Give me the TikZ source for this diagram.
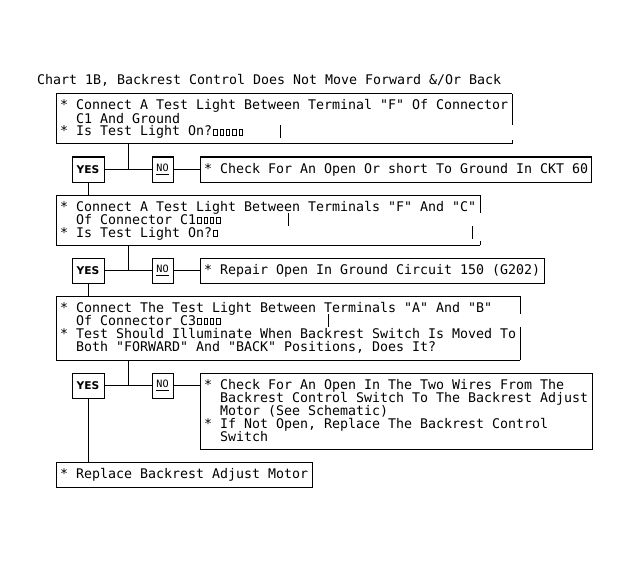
\documentclass[tikz,border=0pt]{standalone}
\usepackage{fontspec}
\newfontfamily\mono{DejaVu Sans Mono}[Ligatures=TeXOff]
\newfontfamily\dvsans{DejaVu Sans}[Ligatures=TeXOff]
\usetikzlibrary{fit}
\frenchspacing
\newcommand\ind{\hskip1.204em\relax}
\newcommand\tofu{\hbox to 4.8pt{\hss\vrule width 0.6pt height 5.4pt\vbox to 5.4pt{\hrule height 0.6pt width 2pt\vfill\hrule height 0.6pt width 2pt}\vrule width 0.6pt height 5.4pt\hss}}
\newcommand\txtlines[1]{\vtop{\baselineskip=9.75pt\lineskiplimit=-20pt\lineskip=0pt #1}}
\tikzset{
  txt/.style={inner sep=0pt, outer sep=0pt, anchor=base west, font=\mono\fontsize{9.97}{9.75}\selectfont},
  frame/.style={inner sep=0pt, outer sep=0pt, draw=none},
  box/.style={draw, inner sep=0pt},
  yesbox/.style={draw, inner sep=0pt, minimum width=24pt, minimum height=18.75pt,
    font=\dvsans\bfseries\fontsize{8}{9}\selectfont},
  nobox/.style={draw, inner sep=0pt, minimum width=15.75pt, minimum height=18.75pt,
    font=\mono\fontsize{7.6}{9}\selectfont},
}
\begin{document}
\begin{tikzpicture}[x=0.75pt, y=-0.75pt, line width=0.75pt]
\useasboundingbox (0,0) rectangle (631,563);

% title
\node[txt] (title) at (37,85) {Chart 1B, Backrest Control Does Not Move Forward \&/Or Back};

% ---------- question 1
\node[frame, fit={(56.5,94) (512,144)}] (q1) {};
\node[txt] (t1) at (60,110) {\txtlines{%
  \hbox{* Connect A Test Light Between Terminal "F" Of Connector}%
  \hbox{\ind C1 And Ground}%
  \hbox{* Is Test Light On?\tofu\tofu\tofu\tofu\tofu}}};
\draw (q1.north east) -- (q1.north west) -- (q1.south west) -- (q1.south east);
\draw (q1.north east) -- (512,125);
\draw (512,140) -- (q1.south east);
\draw (280,125) -- (280,138);

% row 1
\node[yesbox] (yes1) at (88,169.5) {YES};
\node[nobox] (no1) at (162.5,169.5) {\underline{NO}};
\node[box, fit={(200.5,157) (591,182)}] (c1) {};
\node[txt] (c1t) at (204,173.5) {* Check For An Open Or short To Ground In CKT 60};
\coordinate (j1) at (128,169.5);
\draw (j1 |- q1.south) -- (j1);
\draw (yes1) -- (no1);
\draw (no1) -- (c1);

% ---------- question 2
\node[frame, fit={(56.5,195) (480,245)}] (q2) {};
\node[txt] (t2) at (60,211) {\txtlines{%
  \hbox{* Connect A Test Light Between Terminals "F" And "C"}%
  \hbox{\ind Of Connector C1\tofu\tofu\tofu\tofu}%
  \hbox{* Is Test Light On?\tofu}}};
\draw (q2.north east) -- (q2.north west) -- (q2.south west) -- (q2.south east);
\draw (q2.north east) -- (480,213);
\draw (480,241) -- (q2.south east);
\draw (288,213) -- (288,226);
\draw (472,226) -- (472,239);
\draw (yes1) -- (yes1 |- q2.north);

% row 2
\node[yesbox] (yes2) at (88,270.5) {YES};
\node[nobox] (no2) at (162.5,270.5) {\underline{NO}};
\node[box, fit={(200.5,258) (544.5,283)}] (r2) {};
\node[txt] (r2t) at (204,274.5) {* Repair Open In Ground Circuit 150 (G202)};
\coordinate (j2) at (128,270.5);
\draw (j2 |- q2.south) -- (j2);
\draw (yes2) -- (no2);
\draw (no2) -- (r2);

% ---------- question 3
\node[frame, fit={(56.5,296) (520,360)}] (q3) {};
\node[txt] (t3) at (60,312) {\txtlines{%
  \hbox{* Connect The Test Light Between Terminals "A" And "B"}%
  \hbox{\ind Of Connector C3\tofu\tofu\tofu\tofu}%
  \hbox{* Test Should Illuminate When Backrest Switch Is Moved To}%
  \hbox{\ind Both "FORWARD" And "BACK" Positions, Does It?}}};
\draw (q3.north east) -- (q3.north west) -- (q3.south west) -- (q3.south east);
\draw (q3.north east) -- (520,314);
\draw (520,327) -- (q3.south east);
\draw (328,314) -- (328,327);
\draw (yes2) -- (yes2 |- q3.north);

% row 3
\node[yesbox] (yes3) at (88,385.5) {YES};
\node[nobox] (no3) at (162.5,385.5) {\underline{NO}};
\node[box, fit={(200.5,373.5) (592,449.5)}] (c3) {};
\node[txt] (c3t) at (204,389.5) {\txtlines{%
  \hbox{* Check For An Open In The Two Wires From The}%
  \hbox{\ind Backrest Control Switch To The Backrest Adjust}%
  \hbox{\ind Motor (See Schematic)}%
  \hbox{* If Not Open, Replace The Backrest Control}%
  \hbox{\ind Switch}}};
\coordinate (j3) at (128,385.5);
\draw (j3 |- q3.south) -- (j3);
\draw (yes3) -- (no3);
\draw (no3) -- (no3 -| c3.west);

% final
\node[box, fit={(56.5,462) (312,487)}] (rp) {};
\node[txt] (rpt) at (60,478) {* Replace Backrest Adjust Motor};
\draw (yes3) -- (yes3 |- rp.north);
\end{tikzpicture}
\end{document}
